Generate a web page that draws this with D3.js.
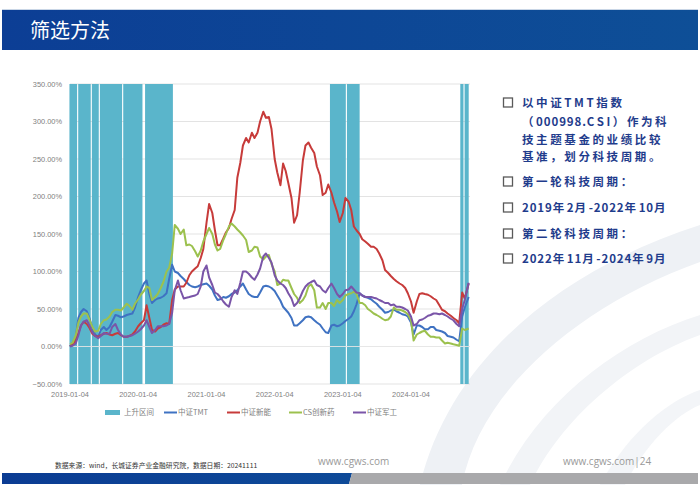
<!DOCTYPE html>
<html><head><meta charset="utf-8">
<script src="https://cdn.jsdelivr.net/npm/d3@7/dist/d3.min.js"></script>
<style>html,body{margin:0;padding:0;background:#fff;}svg{display:block;}</style>
</head><body>
<svg id="c" width="700" height="485"></svg>
<script>
// ---------- data ----------
const dates = [
"2019-01-04","2019-01-18","2019-02-04","2019-02-18","2019-03-04","2019-03-18","2019-04-04","2019-04-18","2019-05-04","2019-05-18",
"2019-06-04","2019-06-18","2019-07-04","2019-07-18","2019-08-04","2019-08-18","2019-09-04","2019-09-18","2019-10-04","2019-10-18",
"2019-11-04","2019-11-18","2019-12-04","2019-12-18","2020-01-04","2020-01-18","2020-02-04","2020-02-18","2020-03-04","2020-03-18",
"2020-04-04","2020-04-18","2020-05-04","2020-05-18","2020-06-04","2020-06-18","2020-07-04","2020-07-18","2020-08-04","2020-08-18",
"2020-09-04","2020-09-18","2020-10-04","2020-10-18","2020-11-04","2020-11-18","2020-12-04","2020-12-18","2021-01-04","2021-01-18",
"2021-02-04","2021-02-18","2021-03-04","2021-03-18","2021-04-04","2021-04-18","2021-05-04","2021-05-18","2021-06-04","2021-06-18",
"2021-07-04","2021-07-18","2021-08-04","2021-08-18","2021-09-04","2021-09-18","2021-10-04","2021-10-18","2021-11-04","2021-11-18",
"2021-12-04","2021-12-18","2022-01-04","2022-01-18","2022-02-04","2022-02-18","2022-03-04","2022-03-18","2022-04-04","2022-04-18",
"2022-05-04","2022-05-18","2022-06-04","2022-06-18","2022-07-04","2022-07-18","2022-08-04","2022-08-18","2022-09-04","2022-09-18",
"2022-10-04","2022-10-18","2022-11-04","2022-11-18","2022-12-04","2022-12-18","2023-01-04","2023-01-18","2023-02-04","2023-02-18",
"2023-03-04","2023-03-18","2023-04-04","2023-04-18","2023-05-04","2023-05-18","2023-06-04","2023-06-18","2023-07-04","2023-07-18",
"2023-08-04","2023-08-18","2023-09-04","2023-09-18","2023-10-04","2023-10-18","2023-11-04","2023-11-18","2023-12-04","2023-12-18",
"2024-01-04","2024-01-18","2024-02-04","2024-02-18","2024-03-04","2024-03-18","2024-04-04","2024-04-18","2024-05-04","2024-05-18",
"2024-06-04","2024-06-18","2024-07-04","2024-07-18","2024-08-04","2024-08-18","2024-09-04","2024-09-18","2024-10-04","2024-10-18",
"2024-11-08"];

const tmt = [0,5,12,38,46,50,47,38,24,16, 13,22,26,22,26,33,42,41,39,40, 42,43,44,52,66,75,84,88,70,58,
 62,64,65,67,71,90,109,100,98,94, 90,86,82,80,79,80,82,83,84,81, 76,68,62,63,66,65,67,70,72,75,
 80,84,76,70,67,66,66,72,80,81, 80,78,74,68,61,53,49,45,38,28, 28,31,35,39,40,39,35,32,29,24,
 19,18,28,29,27,28,31,34,37,40, 47,56,71,68,66,65,63,60,57,53, 49,45,46,48,49,47,45,43,42,40,
 32,16,28,28,26,23,23,26,26,22, 21,20,18,14,13,12,9,7,40,52, 66];

const xny = [0,3,8,18,28,33,30,25,17,14, 13,15,17,18,16,15,17,18,15,13, 13,14,16,20,27,31,35,55,38,22,
 20,24,26,29,31,30,62,76,80,80, 80,85,95,100,104,107,118,130,165,190, 178,155,135,135,144,152,158,170,182,225,
 245,268,278,272,285,278,285,300,313,305, 306,290,250,232,215,244,234,218,198,165, 175,205,248,268,272,265,258,240,228,202,
 205,216,205,192,180,166,178,198,193,182, 160,155,150,143,140,137,133,133,130,124, 115,102,98,94,90,87,84,82,78,71,
 60,45,60,70,71,70,69,67,64,62, 55,49,47,44,41,38,35,31,72,64, 84];

const cxy = [3,5,15,32,40,44,44,36,26,20, 21,30,35,36,40,46,49,49,48,52, 57,54,49,57,63,69,74,80,78,62,
 66,70,78,86,100,105,124,162,157,150, 156,135,136,134,127,120,128,140,150,158, 150,136,128,130,142,150,160,164,160,156,
 152,148,142,126,128,133,132,120,116,120, 122,110,100,82,84,89,88,88,78,70, 65,58,62,68,80,83,75,52,52,58,
 50,58,58,54,62,58,62,68,70,71, 73,70,58,58,55,50,47,44,42,40, 37,35,36,40,52,49,49,48,46,43,
 35,8,16,18,20,21,16,13,13,12, 12,8,4,5,4,3,2,1,24,22, 24];

const jg = [0,1,4,15,28,33,35,28,19,14, 11,14,18,17,17,26,30,22,16,13, 13,14,15,17,20,23,28,35,26,18,
 22,27,27,27,28,30,45,75,88,75, 64,65,66,67,68,70,80,100,108,92, 82,72,70,66,60,56,53,66,75,70,
 85,100,100,97,92,89,96,104,120,124, 118,112,95,88,84,82,78,71,64,54, 58,64,74,80,84,86,88,82,80,75,
 72,78,84,78,70,66,70,75,76,80, 76,72,71,68,66,66,66,65,64,62, 60,58,58,55,56,53,53,52,50,48,
 40,28,30,35,36,38,41,42,44,44, 43,44,42,40,37,35,30,27,50,62, 85];

const upStart = ["2019-01-01","2019-02-17","2019-05-01","2019-06-13","2019-10-16","2020-02-10","2022-10-27","2023-01-26","2024-09-24","2024-10-17"];
const upEnd   = ["2019-02-11","2019-04-25","2019-06-07","2019-10-10","2020-01-27","2020-07-08","2023-01-20","2023-04-04","2024-10-11","2024-11-08"];

const yTicks = [-50,0,50,100,150,200,250,300,350];
const xTickLabels = ["2019-01-04","2020-01-04","2021-01-04","2022-01-04","2023-01-04","2024-01-04"];
const seriesNames = ["中证TMT","中证新能","CS创新药","中证军工"];
const bandName = "上升区间";

const title = "筛选方法";
const bullets = [
  ["以中证TMT指数","（000998.CSI）作为科","技主题基金的业绩比较","基准，划分科技周期。"],
  ["第一轮科技周期："],
  ["2019年2月-2022年10月"],
  ["第二轮科技周期："],
  ["2022年11月-2024年9月"]
];
const sourceText = "数据来源：wind，长城证券产业金融研究院，数据日期：20241111";
const site = "www.cgws.com";
const pageText = "www.cgws.com|24";

// ---------- drawing ----------
const parse = d3.timeParse("%Y-%m-%d");
const svg = d3.select("#c");
const colors = ["#3F72C2","#C73B3A","#9CC14E","#7A55A8"];
const bandColor = "#5AB5CB";
const cjk = "'Noto Sans CJK SC','Noto Sans',sans-serif";

svg.append("rect").attr("width",700).attr("height",485).attr("fill","#fff");

// background swoosh decoration
const deco = svg.append("g");
deco.append("path").attr("d","M420 485 C450 360 560 270 700 225 L700 262 C580 305 480 390 462 485 Z").attr("fill","#EEF1F5");
deco.append("path").attr("d","M500 485 C540 400 620 340 700 315 L700 335 C630 360 560 420 530 485 Z").attr("fill","#F2F4F7");
deco.append("path").attr("d","M600 485 C630 430 670 400 700 390 L700 405 C675 415 645 445 625 485 Z").attr("fill","#F3F5F8");

// header
const defs = svg.append("defs");
const hg = defs.append("linearGradient").attr("id","hg").attr("x1","0").attr("x2","1");
hg.append("stop").attr("offset","0").attr("stop-color","#0C3E95");
hg.append("stop").attr("offset","1").attr("stop-color","#0E4F97");
svg.append("rect").attr("x",2).attr("y",9).attr("width",696).attr("height",1).attr("fill","#C9D6E6");
svg.append("rect").attr("x",2).attr("y",10).attr("width",696).attr("height",40).attr("fill","url(#hg)");
svg.append("text").attr("x",30).attr("y",38).attr("fill","#fff")
  .attr("font-family",cjk).attr("font-size",20).text(title);

// scales
const x = d3.scaleTime().domain([parse(dates[0]), parse(dates[dates.length-1])]).range([70, 468.7]);
const y = d3.scaleLinear().domain([-50,350]).range([384,84]);
const plotL = 70, plotR = 470;

const g = svg.append("g");
// gridlines
g.selectAll("line.grid").data(yTicks.filter(v=>v!==0)).join("line")
  .attr("x1",plotL).attr("x2",plotR).attr("y1",d=>y(d)).attr("y2",d=>y(d))
  .attr("stroke","#DCDCDC").attr("stroke-width",0.8);

// up bands
g.selectAll("rect.band").data(upStart.map((s,i)=>[parse(s),parse(upEnd[i])])).join("rect")
  .attr("x",d=>x(d[0])).attr("width",d=>x(d[1])-x(d[0]))
  .attr("y",y(350)).attr("height",y(-50)-y(350)).attr("fill",bandColor);

// zero axis line
g.append("line").attr("x1",plotL).attr("x2",plotR).attr("y1",y(0)).attr("y2",y(0))
  .attr("stroke","#E4E4E4").attr("stroke-width",0.9);

// lines
const dd = dates.map(parse);
const seriesVals = [tmt,xny,cxy,jg];
const line = d3.line().x((d,i)=>x(dd[i])).y(d=>y(d));
seriesVals.forEach((vals,i)=>{
  g.append("path").datum(vals).attr("d",line).attr("fill","none")
   .attr("stroke",colors[i]).attr("stroke-width",2).attr("stroke-linejoin","round");
});

// y labels
g.selectAll("text.yl").data(yTicks).join("text")
  .attr("x",62).attr("y",d=>y(d)+2.7).attr("text-anchor","end")
  .attr("font-family","'Liberation Sans',Arial,sans-serif").attr("font-size",7.4).attr("fill","#808080")
  .text(d=>d3.format(".2f")(d)+"%");

// x labels
g.selectAll("text.xl").data(xTickLabels).join("text")
  .attr("x",d=>x(parse(d))).attr("y",397).attr("text-anchor","middle")
  .attr("font-family","'Liberation Sans',Arial,sans-serif").attr("font-size",7.4).attr("fill","#808080")
  .text(d=>d);

// legend
const lg = svg.append("g").attr("font-family",cjk).attr("font-size",7.5).attr("fill","#808080");
lg.append("rect").attr("x",105).attr("y",410).attr("width",15).attr("height",5).attr("fill",bandColor);
lg.append("text").attr("x",124).attr("y",415).text(bandName);
const legX = [164,227,289,353];
seriesNames.forEach((n,i)=>{
  lg.append("line").attr("x1",legX[i]).attr("x2",legX[i]+13).attr("y1",412.5).attr("y2",412.5)
    .attr("stroke",colors[i]).attr("stroke-width",2);
  lg.append("text").attr("x",legX[i]+14).attr("y",415).text(n);
});

// right bullet text
const rt = svg.append("g").attr("font-family",cjk).attr("font-weight","bold")
  .attr("font-size",11.5).attr("fill","#1F3C8C");
const lineYs = [[103,122,140,157],[182],[208],[234],[259]];
bullets.forEach((b,i)=>{
  rt.append("rect").attr("x",503.5).attr("y",lineYs[i][0]-5).attr("width",9).attr("height",9)
    .attr("fill","none").attr("stroke","#595959").attr("stroke-width",1.3);
  b.forEach((t,j)=>{
    const tx = rt.append("text").attr("x",522).attr("y",lineYs[i][j]+4);
    (t.match(/[0-9.\-]+|[^0-9.\-]+/g)||[]).forEach(run=>{
      const narrow = /^[0-9.\-]+$/.test(run);
      tx.append("tspan").attr("letter-spacing",narrow?0.9:2.6).text(run);
    });
  });
});

// footer
svg.append("text").attr("x",55).attr("y",468).attr("font-family",cjk).attr("font-size",6.8)
  .attr("fill","#333").text(sourceText);
svg.append("text").attr("x",318).attr("y",465).attr("font-family","'Open Sans',sans-serif").attr("font-size",10)
  .attr("fill","#9A9A9A").text(site);
svg.append("text").attr("x",563).attr("y",465).attr("font-family","'Open Sans',sans-serif").attr("font-size",10)
  .attr("fill","#9A9A9A").text(pageText);
const fg = defs.append("linearGradient").attr("id","fg").attr("x1","0").attr("x2","1");
fg.append("stop").attr("offset","0").attr("stop-color","#0B3C93");
fg.append("stop").attr("offset","1").attr("stop-color","#0E4A98");
svg.append("path").attr("d","M2 473 L352 473 L349 484 L2 484 Z").attr("fill","url(#fg)");
svg.append("path").attr("d","M352 473 L698 473 L698 484 L349 484 Z").attr("fill","#A9A9AB");
</script>
</body></html>
